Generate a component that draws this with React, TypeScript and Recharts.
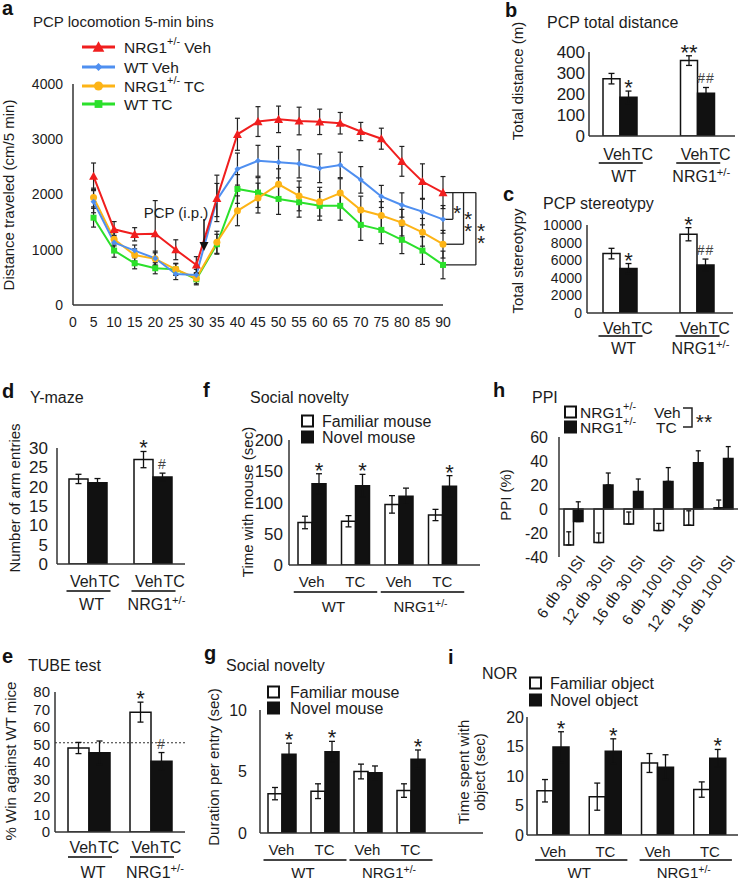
import React from "react";
import {
  LineChart,
  Line,
  BarChart,
  Bar,
  XAxis,
  YAxis,
  ErrorBar,
  ReferenceLine,
  LabelList,
} from "recharts";

const FONT = '"Liberation Sans", Arial, Helvetica, sans-serif';
const INK = "#1c1c1c";
const AXIS = "#333";

// a: PCP locomotion in 5-min bins
const timeBins = [5, 10, 15, 20, 25, 30, 35, 40, 45, 50, 55, 60, 65, 70, 75, 80, 85, 90];
const timeTicks = [0, 5, 10, 15, 20, 25, 30, 35, 40, 45, 50, 55, 60, 65, 70, 75, 80, 85, 90];
const nrgVeh = [2330, 1370, 1280, 1290, 1000, 725, 1930, 3090, 3320, 3360, 3330, 3315, 3290, 3140, 3010, 2600, 2235, 2035];
const nrgVehErr = [240, 140, 120, 600, 180, 150, 420, 290, 270, 240, 250, 230, 195, 165, 190, 270, 320, 290];
const wtVeh = [1870, 1130, 985, 845, 560, 545, 1900, 2460, 2610, 2585, 2555, 2475, 2535, 2265, 1965, 1810, 1690, 1550];
const wtVehErr = [200, 130, 100, 130, 100, 100, 300, 290, 280, 285, 255, 260, 230, 240, 200, 220, 240, 250];
const nrgTC = [1945, 1190, 905, 835, 645, 485, 1135, 1705, 1935, 2185, 1975, 1870, 2025, 1720, 1620, 1490, 1315, 1100];
const nrgTCErr = [170, 120, 110, 110, 110, 100, 200, 270, 270, 280, 270, 260, 260, 250, 250, 240, 250, 250];
const wtTC = [1580, 985, 755, 665, 645, 465, 1100, 2100, 2035, 1920, 1860, 1795, 1795, 1450, 1360, 1180, 985, 725];
const wtTCErr = [170, 120, 100, 100, 100, 100, 180, 260, 270, 280, 270, 260, 260, 280, 250, 250, 250, 250];

// b-e: Veh / TC per genotype
const genotypes = ["WT", "NRG1+/-"];
const pairTreat = ["Veh", "TC"];
const bVeh = [273, 359];
const bVehErr = [25, 23];
const bTC = [184, 203];
const bTCErr = [30, 28];
const bVehSig = ["", "**"];
const bTCSig = ["*", "##"];

const cVeh = [6750, 8950];
const cVehErr = [600, 750];
const cTC = [5050, 5450];
const cTCErr = [570, 680];
const cVehSig = ["", "*"];
const cTCSig = ["*", "##"];

const dVeh = [22, 27];
const dVehErr = [1.2, 2.1];
const dTC = [21, 22.5];
const dTCErr = [1.1, 1.0];
const dVehSig = ["", "*"];
const dTCSig = ["", "#"];

const eVeh = [48, 68.5];
const eVehErr = [3.2, 5.7];
const eTC = [45.3, 40.4];
const eTCErr = [6.7, 5];
const eVehSig = ["", "*"];
const eTCSig = ["", "#"];
const eChance = 51;

// f, g, i: familiar vs novel per treatment x genotype
const quadTreat = ["Veh", "TC", "Veh", "TC"];
const fFamiliar = [68, 70, 97, 80];
const fFamiliarErr = [10, 9, 14, 9];
const fNovel = [130, 127, 110, 126];
const fNovelErr = [16, 18, 13, 17];
const fSig = ["*", "*", "", "*"];

const gFamiliar = [3.2, 3.4, 5.0, 3.45];
const gFamiliarErr = [0.5, 0.6, 0.6, 0.55];
const gNovel = [6.4, 6.6, 4.9, 6.0];
const gNovelErr = [0.9, 0.85, 0.55, 0.75];
const gSig = ["*", "*", "", "*"];

const iFamiliar = [7.5, 6.5, 12.2, 7.7];
const iFamiliarErr = [1.9, 2.3, 1.6, 1.3];
const iNovel = [14.9, 14.2, 11.5, 13.0];
const iNovelErr = [2.6, 2.1, 2.1, 1.5];
const iSig = ["*", "*", "", "*"];

// h: PPI
const ppiCats = ["6 db 30 ISI", "12 db 30 ISI", "16 db 30 ISI", "6 db 100 ISI", "12 db 100 ISI", "16 db 100 ISI"];
const hVeh = [-30, -28, -12.5, -18, -13.5, 1];
const hVehErr = [[0, 11], [0, 8], [0, 10], [0, 6], [0, 12], [0, 6.5]];
const hTC = [-10.5, 20, 14.5, 23, 38.5, 42];
const hTCErr = [[0, 16.5], [0, 10], [0, 10.5], [0, 11.5], [0, 10], [0, 10]];

const locoRows = timeBins.map((t, i) => ({
  t,
  nrgVeh: nrgVeh[i], nrgVehErr: nrgVehErr[i],
  wtVeh: wtVeh[i], wtVehErr: wtVehErr[i],
  nrgTC: nrgTC[i], nrgTCErr: nrgTCErr[i],
  wtTC: wtTC[i], wtTCErr: wtTCErr[i],
}));

const pairRows = (veh: number[], vehErr: number[], tc: number[], tcErr: number[], vehSig: string[], tcSig: string[]) =>
  genotypes.map((g, i) => ({ geno: g, veh: veh[i], vehErr: vehErr[i], tc: tc[i], tcErr: tcErr[i], vehSig: vehSig[i], tcSig: tcSig[i] }));

const quadRows = (fam: number[], famErr: number[], nov: number[], novErr: number[], sig: string[]) =>
  quadTreat.map((t, i) => ({ trt: t, fam: fam[i], famErr: famErr[i], nov: nov[i], novErr: novErr[i], famSig: "", novSig: sig[i] }));

const ppiRows = ppiCats.map((c, i) => ({ cat: c, veh: hVeh[i], vehErr: hVehErr[i], tc: hTC[i], tcErr: hTCErr[i] }));

type Geo = { L: number; T: number; R: number; B: number; yw: number; xh: number };
const PAD = 40;
function frame(g: Geo) {
  return {
    box: { position: "absolute" as const, left: g.L - g.yw, top: g.T - PAD },
    width: g.R - g.L + g.yw + PAD,
    height: g.B - g.T + PAD + g.xh,
    margin: { top: PAD, right: PAD, bottom: 0, left: 0 },
  };
}

function supParts(text: string, fs: number) {
  const k = text.indexOf("+/-");
  if (k < 0) return [<tspan key="a">{text}</tspan>];
  const before = text.slice(0, k);
  const after = text.slice(k + 3);
  return [
    <tspan key="a">{before}</tspan>,
    <tspan key="b" dy={-fs * 0.36} fontSize={fs * 0.7}>+/-</tspan>,
    <tspan key="c" dy={fs * 0.36} fontSize={fs}>{after}</tspan>,
  ];
}

function Geno({ x, y, text, fs, anchor = "middle" }: any) {
  return (
    <text x={x} y={y} textAnchor={anchor} fontSize={fs} fill={INK} fontFamily={FONT}>
      {supParts(text, fs)}
    </text>
  );
}

// star / hash above the error bar of a bar
function sigLabel(rows: any[], errKey: string, ppu: number) {
  return (p: any) => {
    const v = p.value;
    if (!v) return null;
    const vb = p.viewBox || p;
    const idx = p.index ?? 0;
    const err = rows[idx][errKey];
    const top = Number(vb.y) - err * ppu;
    const cx = Number(vb.x) + Number(vb.width) / 2;
    const hash = String(v).includes("#");
    return (
      <text
        x={cx}
        y={hash ? top - 4 : top + 4}
        textAnchor="middle"
        fontSize={hash ? 14 : 22}
        fill={hash ? "#444" : INK}
        letterSpacing={hash ? 1 : 0}
        fontFamily={FONT}
      >
        {v}
      </text>
    );
  };
}

function pairTick(o: { split: number; row1: number; line: number; row2: number; fs: number }) {
  return (p: any) => {
    const { x, y, payload } = p;
    return (
      <g>
        <text x={x + o.split} y={y + o.row1} textAnchor="end" fontSize={o.fs} fill={INK} fontFamily={FONT}>
          {pairTreat[0]}
        </text>
        <text x={x + o.split + 1} y={y + o.row1} textAnchor="start" fontSize={o.fs} fill={INK} fontFamily={FONT}>
          {pairTreat[1]}
        </text>
        <line x1={x - 21} x2={x + 23} y1={y + o.line} y2={y + o.line} stroke="#444" strokeWidth={2} />
        <Geno x={x + 4} y={y + o.row2} text={payload.value} fs={o.fs} />
      </g>
    );
  };
}

function quadTick(o: { row1: number; line: number; row2: number; fs: number; band: number }) {
  return (p: any) => {
    const { x, y, payload } = p;
    const idx = p.index ?? payload.index ?? 0;
    const first = idx % 2 === 0;
    return (
      <g>
        <text x={x} y={y + o.row1} textAnchor="middle" fontSize={o.fs} fill={INK} fontFamily={FONT}>
          {payload.value}
        </text>
        {first && <line x1={x - 18} x2={x + o.band + 22} y1={y + o.line} y2={y + o.line} stroke="#444" strokeWidth={2} />}
        {first && <Geno x={x + o.band / 2} y={y + o.row2} text={genotypes[idx / 2]} fs={o.fs} />}
      </g>
    );
  };
}

const yAxisProps = (g: Geo, domain: number[], ticks: number[], fs: number, m: number) => ({
  width: g.yw,
  domain,
  ticks,
  interval: 0 as const,
  allowDataOverflow: true,
  axisLine: { stroke: AXIS, strokeWidth: 1.5 },
  tickLine: false,
  tickSize: 0,
  tickMargin: m,
  tick: { fontSize: fs, fill: INK, fontFamily: FONT },
});

function PairChart({ g, rows, domain, ticks, fs, m, barSize, pad, tk, ppu, refY }: any) {
  const f = frame(g);
  return (
    <div style={f.box}>
      <BarChart width={f.width} height={f.height} margin={f.margin} data={rows} barGap={0}>
        <XAxis
          dataKey="geno"
          height={g.xh}
          padding={pad}
          axisLine={{ stroke: AXIS, strokeWidth: 1.5 }}
          tickLine={false}
          tickSize={0}
          tickMargin={0}
          interval={0}
          tick={pairTick(tk)}
        />
        <YAxis {...yAxisProps(g, domain, ticks, fs, m)} />
        {refY != null && <ReferenceLine y={refY} stroke="#333" strokeDasharray="2 2" strokeWidth={1.2} />}
        <Bar dataKey="veh" fill="#fff" stroke="#111" strokeWidth={1.5} barSize={barSize} isAnimationActive={false}>
          <ErrorBar dataKey="vehErr" direction="y" width={3} stroke="#111" strokeWidth={1.3} />
          <LabelList dataKey="vehSig" content={sigLabel(rows, "vehErr", ppu)} />
        </Bar>
        <Bar dataKey="tc" fill="#111" stroke="#111" strokeWidth={1.5} barSize={barSize} isAnimationActive={false}>
          <ErrorBar dataKey="tcErr" direction="y" width={3} stroke="#111" strokeWidth={1.3} />
          <LabelList dataKey="tcSig" content={sigLabel(rows, "tcErr", ppu)} />
        </Bar>
      </BarChart>
    </div>
  );
}

function QuadChart({ g, rows, domain, ticks, fs, m, barSize, pad, tk, ppu }: any) {
  const f = frame(g);
  const band = (g.R - g.L - pad.left - pad.right) / rows.length;
  return (
    <div style={f.box}>
      <BarChart width={f.width} height={f.height} margin={f.margin} data={rows} barGap={0}>
        <XAxis
          dataKey="trt"
          height={g.xh}
          padding={pad}
          axisLine={{ stroke: AXIS, strokeWidth: 1.5 }}
          tickLine={false}
          tickSize={0}
          tickMargin={0}
          interval={0}
          tick={quadTick({ ...tk, band })}
        />
        <YAxis {...yAxisProps(g, domain, ticks, fs, m)} />
        <Bar dataKey="fam" fill="#fff" stroke="#111" strokeWidth={1.5} barSize={barSize} isAnimationActive={false}>
          <ErrorBar dataKey="famErr" direction="y" width={3} stroke="#111" strokeWidth={1.3} />
        </Bar>
        <Bar dataKey="nov" fill="#111" stroke="#111" strokeWidth={1.5} barSize={barSize} isAnimationActive={false}>
          <ErrorBar dataKey="novErr" direction="y" width={3} stroke="#111" strokeWidth={1.3} />
          <LabelList dataKey="novSig" content={sigLabel(rows, "novErr", ppu)} />
        </Bar>
      </BarChart>
    </div>
  );
}

function Marker({ shape, cx, cy, s, fill }: any) {
  if (cx == null || cy == null) return null;
  if (shape === "circ") return <circle cx={cx} cy={cy} r={s} fill={fill} />;
  if (shape === "sq") return <rect x={cx - s} y={cy - s} width={2 * s} height={2 * s} fill={fill} />;
  if (shape === "tri")
    return <polygon points={`${cx},${cy - s} ${cx - s},${cy + s * 0.8} ${cx + s},${cy + s * 0.8}`} fill={fill} />;
  return <polygon points={`${cx},${cy - s} ${cx + s},${cy} ${cx},${cy + s} ${cx - s},${cy}`} fill={fill} />;
}

const locoSeries = [
  { key: "wtTC", name: "WT TC", color: "#2be02b", shape: "sq", s: 3 },
  { key: "nrgTC", name: "NRG1+/- TC", color: "#fdb416", shape: "circ", s: 3.5 },
  { key: "wtVeh", name: "WT Veh", color: "#4f8ff0", shape: "dia", s: 3 },
  { key: "nrgVeh", name: "NRG1+/- Veh", color: "#f01e1e", shape: "tri", s: 4.5 },
];
const legendOrder = ["nrgVeh", "wtVeh", "nrgTC", "wtTC"];

function LocoChart() {
  const g: Geo = { L: 73, T: 84, R: 443, B: 305, yw: 60, xh: 50 };
  const f = frame(g);
  const last = (a: number[]) => a[a.length - 1];
  const top = last(nrgVeh);
  const lows = [last(wtVeh), last(nrgTC), last(wtTC)];
  const bx = [92.4, 95, 98];
  return (
    <div style={f.box}>
      <LineChart width={f.width} height={f.height} margin={f.margin} data={locoRows}>
        <XAxis
          dataKey="t"
          type="number"
          domain={[0, 90]}
          ticks={timeTicks}
          interval={0}
          height={g.xh}
          axisLine={{ stroke: AXIS, strokeWidth: 1.5 }}
          tickLine={false}
          tickSize={0}
          tickMargin={12}
          tick={{ fontSize: 14, fill: INK, fontFamily: FONT }}
        />
        <YAxis {...yAxisProps(g, [0, 4000], [0, 1000, 2000, 3000, 4000], 14, 10)} />
        {locoSeries.map((s) => (
          <Line
            key={s.key}
            dataKey={s.key}
            stroke={s.color}
            strokeWidth={2}
            isAnimationActive={false}
            dot={(p: any) => <Marker key={`${s.key}-${p.index}`} shape={s.shape} cx={p.cx} cy={p.cy} s={s.s} fill={s.color} />}
          >
            <ErrorBar dataKey={`${s.key}Err`} direction="y" width={2.5} stroke="#222" strokeWidth={1.2} />
          </Line>
        ))}
        <ReferenceLine segment={[{ x: 90, y: top }, { x: bx[2], y: top }]} stroke="#222" strokeWidth={1.3} ifOverflow="visible" />
        {lows.map((lo, j) => (
          <ReferenceLine key={`h${j}`} segment={[{ x: 90, y: lo }, { x: bx[j], y: lo }]} stroke="#222" strokeWidth={1.3} ifOverflow="visible" />
        ))}
        {lows.map((lo, j) => (
          <ReferenceLine key={`v${j}`} segment={[{ x: bx[j], y: top }, { x: bx[j], y: lo }]} stroke="#222" strokeWidth={1.3} ifOverflow="visible" />
        ))}
      </LineChart>
    </div>
  );
}

function PpiChart() {
  const g: Geo = { L: 559, T: 437, R: 738, B: 557, yw: 40, xh: 80 };
  const f = frame(g);
  const tick = (p: any) => (
    <text
      transform={`translate(${p.x + 13},${p.y + 3}) rotate(-55)`}
      textAnchor="end"
      fontSize={15}
      fill={INK}
      fontFamily={FONT}
    >
      {p.payload.value}
    </text>
  );
  return (
    <div style={f.box}>
      <BarChart width={f.width} height={f.height} margin={f.margin} data={ppiRows} barGap={0}>
        <XAxis
          dataKey="cat"
          height={g.xh}
          padding={{ left: -1, right: 0 }}
          axisLine={false}
          tickLine={false}
          tickSize={0}
          tickMargin={0}
          interval={0}
          tick={tick}
        />
        <YAxis {...yAxisProps(g, [-40, 60], [-40, -20, 0, 20, 40, 60], 16, 11)} />
        <ReferenceLine y={0} stroke={AXIS} strokeWidth={1.5} />
        <Bar dataKey="veh" fill="#fff" stroke="#111" strokeWidth={1.5} barSize={9.5} isAnimationActive={false}>
          <ErrorBar dataKey="vehErr" direction="y" width={2.5} stroke="#111" strokeWidth={1.3} />
        </Bar>
        <Bar dataKey="tc" fill="#111" stroke="#111" strokeWidth={1.5} barSize={9.5} isAnimationActive={false}>
          <ErrorBar dataKey="tcErr" direction="y" width={2.5} stroke="#111" strokeWidth={1.3} />
        </Bar>
      </BarChart>
    </div>
  );
}

const letters: [string, number, number][] = [
  ["a", 2, 15], ["b", 505, 17], ["c", 503, 201], ["d", 2, 398], ["f", 203, 397],
  ["h", 493, 397], ["e", 2, 663], ["g", 204, 660], ["i", 448, 664],
];
const titles: [string, number, number, number][] = [
  ["PCP locomotion 5-min bins", 33, 21, 15], ["PCP total distance", 547, 22, 16],
  ["PCP stereotypy", 543, 203, 16], ["Y-maze", 30, 397, 16], ["Social novelty", 250, 397, 16],
  ["PPI", 532, 397, 16], ["TUBE test", 28, 665, 16], ["Social novelty", 226, 665, 16], ["NOR", 482, 673, 16],
];
const yLabels: [string, number, number][] = [
  ["Distance traveled (cm/5 min)", 8.5, 195], ["Total distance (m)", 517, 81], ["Total stereotypy", 517, 261],
  ["Number of arm entries", 14.5, 498], ["Time with mouse (sec)", 247, 502], ["PPI (%)", 505, 495],
  ["% Win against WT mice", 10, 761], ["Duration per entry (sec)", 213, 767],
  ["Time spent with", 463, 772], ["object (sec)", 479, 772],
];
const boxLegends: { x: number; ys: number[]; tx: number; labels: string[] }[] = [
  { x: 302, ys: [421, 437], tx: 322, labels: ["Familiar mouse", "Novel mouse"] },
  { x: 268, ys: [692, 708], tx: 290, labels: ["Familiar mouse", "Novel mouse"] },
  { x: 530, ys: [683, 700], tx: 550, labels: ["Familiar object", "Novel object"] },
];
const aStars: [number, number][] = [[457, 208], [468, 214], [468, 226], [481, 226], [481, 238]];

function Overlay() {
  const legRows = [47, 67, 86, 104];
  return (
    <svg width={739} height={883} style={{ position: "absolute", left: 0, top: 0, pointerEvents: "none" }} fontFamily={FONT}>
      {letters.map(([s, x, y]) => (
        <text key={s} x={x} y={y} fontSize={20} fontWeight="bold" fill="#111">{s}</text>
      ))}
      {titles.map(([s, x, y, fs], i) => (
        <text key={i} x={x} y={y} fontSize={fs} fill={INK} dominantBaseline="central">{s}</text>
      ))}
      {yLabels.map(([s, x, y], i) => (
        <text key={i} transform={`translate(${x},${y}) rotate(-90)`} textAnchor="middle" fontSize={15} fill={INK} dominantBaseline="central">{s}</text>
      ))}
      {legendOrder.map((k, i) => {
        const s = locoSeries.find((q) => q.key === k)!;
        const y = legRows[i];
        return (
          <g key={k}>
            <line x1={82} x2={115} y1={y} y2={y} stroke={s.color} strokeWidth={3} />
            <Marker shape={s.shape} cx={98.5} cy={y} s={s.s * 1.3} fill={s.color} />
            <text x={124} y={y} fontSize={15.5} fill={INK} dominantBaseline="central">{supParts(s.name, 15.5)}</text>
          </g>
        );
      })}
      <text x={176} y={212} textAnchor="middle" fontSize={15} fill={INK} dominantBaseline="central">PCP (i.p.)</text>
      <line x1={204} x2={204} y1={219} y2={244} stroke="#111" strokeWidth={1.5} />
      <polygon points="199.5,242 208.5,242 204,251" fill="#111" />
      {aStars.map(([x, y], i) => (
        <text key={i} x={x} y={y + 12} textAnchor="middle" fontSize={21} fill={INK}>*</text>
      ))}
      {boxLegends.map((l, i) => (
        <g key={i}>
          {l.ys.map((y, j) => (
            <rect key={j} x={l.x} y={y - 5.5} width={11} height={11} fill={j === 0 ? "#fff" : "#111"} stroke="#111" strokeWidth={2} />
          ))}
          {l.labels.map((t, j) => (
            <text key={t} x={l.tx} y={l.ys[j]} fontSize={16} fill={INK} dominantBaseline="central">{t}</text>
          ))}
        </g>
      ))}
      <rect x={565} y={406.5} width={11} height={11} fill="#fff" stroke="#111" strokeWidth={2} />
      <rect x={565} y={421.5} width={11} height={11} fill="#111" stroke="#111" strokeWidth={2} />
      <text x={580} y={412} fontSize={15.5} fill={INK} dominantBaseline="central">{supParts("NRG1+/-", 15.5)}</text>
      <text x={580} y={427} fontSize={15.5} fill={INK} dominantBaseline="central">{supParts("NRG1+/-", 15.5)}</text>
      <text x={654} y={412} fontSize={15.5} fill={INK} dominantBaseline="central">Veh</text>
      <text x={656} y={427} fontSize={15.5} fill={INK} dominantBaseline="central">TC</text>
      <path d="M683,408 H692 V427 H683" fill="none" stroke="#222" strokeWidth={1.5} />
      <text x={704} y={417 + 12} textAnchor="middle" fontSize={21} fill={INK}>**</text>
    </svg>
  );
}

export default function App() {
  return (
    <div
      style={{
        position: "absolute",
        left: 0,
        top: 0,
        width: 739,
        height: 883,
        overflow: "hidden",
        background: "#fff",
        fontFamily: FONT,
      }}
    >
      <LocoChart />
      <PairChart
        g={{ L: 589, T: 52, R: 735, B: 136, yw: 45, xh: 50 }}
        rows={pairRows(bVeh, bVehErr, bTC, bTCErr, bVehSig, bTCSig)}
        domain={[0, 400]}
        ticks={[0, 100, 200, 300, 400]}
        fs={17}
        m={4}
        barSize={17}
        pad={{ left: -8, right: -1 }}
        tk={{ split: 11, row1: 24, line: 27, row2: 46, fs: 16 }}
        ppu={84 / 400}
      />
      <PairChart
        g={{ L: 587, T: 225, R: 733, B: 313, yw: 50, xh: 45 }}
        rows={pairRows(cVeh, cVehErr, cTC, cTCErr, cVehSig, cTCSig)}
        domain={[0, 10000]}
        ticks={[0, 2000, 4000, 6000, 8000, 10000]}
        fs={14}
        m={5}
        barSize={17}
        pad={{ left: -6, right: -2 }}
        tk={{ split: 11, row1: 21, line: 23, row2: 41, fs: 16 }}
        ppu={88 / 10000}
      />
      <PairChart
        g={{ L: 57, T: 448, R: 185, B: 564, yw: 45, xh: 50 }}
        rows={pairRows(dVeh, dVehErr, dTC, dTCErr, dVehSig, dTCSig)}
        domain={[0, 30]}
        ticks={[0, 5, 10, 15, 20, 25, 30]}
        fs={17}
        m={9}
        barSize={19}
        pad={{ left: -2, right: 0 }}
        tk={{ split: 10, row1: 23, line: 27, row2: 46, fs: 16 }}
        ppu={116 / 30}
      />
      <PairChart
        g={{ L: 55, T: 692, R: 185, B: 832, yw: 45, xh: 50 }}
        rows={pairRows(eVeh, eVehErr, eTC, eTCErr, eVehSig, eTCSig)}
        domain={[0, 80]}
        ticks={[0, 10, 20, 30, 40, 50, 60, 70, 80]}
        fs={15}
        m={5}
        barSize={21}
        pad={{ left: 3, right: 3 }}
        tk={{ split: 8, row1: 21, line: 25, row2: 46, fs: 16 }}
        ppu={140 / 80}
        refY={eChance}
      />
      <QuadChart
        g={{ L: 289, T: 440, R: 480, B: 565, yw: 40, xh: 50 }}
        rows={quadRows(fFamiliar, fFamiliarErr, fNovel, fNovelErr, fSig)}
        domain={[0, 200]}
        ticks={[0, 50, 100, 150, 200]}
        fs={17}
        m={6}
        barSize={14}
        pad={{ left: 1, right: 16 }}
        tk={{ row1: 22, line: 27, row2: 47, fs: 15 }}
        ppu={125 / 200}
      />
      <QuadChart
        g={{ L: 260, T: 710, R: 483, B: 833, yw: 40, xh: 50 }}
        rows={quadRows(gFamiliar, gFamiliarErr, gNovel, gNovelErr, gSig)}
        domain={[0, 10]}
        ticks={[0, 5, 10]}
        fs={16}
        m={13}
        barSize={14}
        pad={{ left: 0, right: 51 }}
        tk={{ row1: 22, line: 27, row2: 45, fs: 15 }}
        ppu={123 / 10}
      />
      <QuadChart
        g={{ L: 527, T: 717, R: 738, B: 835, yw: 40, xh: 50 }}
        rows={quadRows(iFamiliar, iFamiliarErr, iNovel, iNovelErr, iSig)}
        domain={[0, 20]}
        ticks={[0, 5, 10, 15, 20]}
        fs={16}
        m={3}
        barSize={16}
        pad={{ left: 0, right: 2 }}
        tk={{ row1: 22, line: 25, row2: 43, fs: 15 }}
        ppu={118 / 20}
      />
      <PpiChart />
      <Overlay />
    </div>
  );
}
